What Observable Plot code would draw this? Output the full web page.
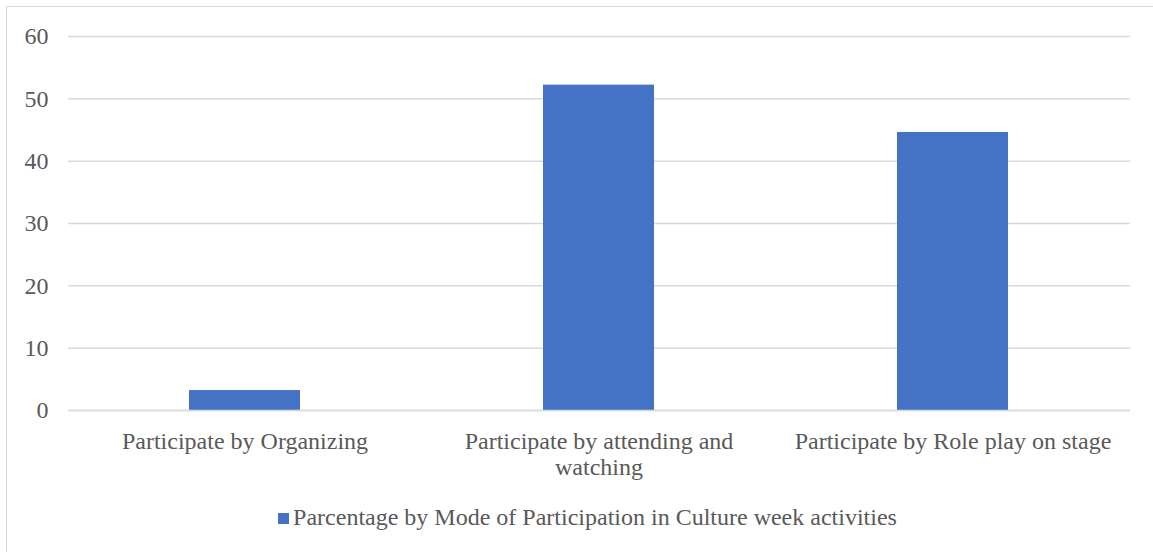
<!DOCTYPE html>
<html>
<head>
<meta charset="utf-8">
<script src="https://cdn.jsdelivr.net/npm/d3@7"></script>
<script src="https://cdn.jsdelivr.net/npm/@observablehq/plot@0.6"></script>
<style>
  html, body { margin: 0; padding: 0; background: #fff; overflow: hidden; width: 1153px; height: 552px; }
  #frame {
    position: absolute; left: 6px; top: 6px; width: 1200px; height: 600px;
    border: 1.5px solid #d9d9d9; box-sizing: border-box;
  }
  #chart { position: absolute; left: 0; top: 0; }
  #legend {
    position: absolute; left: 11px; top: 505px; width: 1153px; text-align: center;
    font-family: "Liberation Serif", "Times New Roman", serif; font-size: 24px; line-height: 24px; color: #595959;
    white-space: nowrap;
  }
  #legend .swatch {
    display: inline-block; width: 11px; height: 11px; background: #4472c4;
    margin-right: 4px; vertical-align: 1px;
  }
</style>
</head>
<body>
<div id="frame"></div>
<div id="chart"></div>
<div id="legend"><span class="swatch"></span>Parcentage by Mode of Participation in Culture week activities</div>
<script>
// Modes of participation and their share (%)
const modes = [
  "Participate by Organizing",
  "Participate by attending and watching",
  "Participate by Role play on stage"
];
const modeLabels = [
  "Participate by Organizing",
  "Participate by attending and\nwatching",
  "Participate by Role play on stage"
];
const percentages = [3.2, 52.2, 44.6];
const yTicks = [0, 10, 20, 30, 40, 50, 60];

const data = modes.map((m, i) => ({mode: m, value: percentages[i]}));
const labelOf = new Map(modes.map((m, i) => [m, modeLabels[i]]));

const chart = Plot.plot({
  width: 1153,
  height: 490,
  marginTop: 36,
  marginBottom: 80,
  marginLeft: 68,
  marginRight: 23,
  style: {fontFamily: "Liberation Serif, Times New Roman, serif", fontSize: "24px", color: "#595959", background: "transparent"},
  x: {domain: modes, paddingInner: 0.686, paddingOuter: 0.343},
  y: {domain: [0, 60]},
  marks: [
    Plot.gridY(yTicks, {stroke: "#d9d9d9", strokeOpacity: 1, strokeWidth: 1.5}),
    Plot.barY(data, {x: "mode", y: "value", fill: "#4472c4"}),
    Plot.ruleY([0], {stroke: "#d9d9d9", strokeWidth: 1.5}),
    Plot.axisY(yTicks, {tickSize: 0, tickPadding: 20, label: null, fontSize: 24}),
    Plot.axisX({tickSize: 0, tickPadding: 20, label: null, fontSize: 24, lineHeight: 1.09,
      tickFormat: d => labelOf.get(d)})
  ]
});
document.getElementById("chart").append(chart);
</script>
</body>
</html>
